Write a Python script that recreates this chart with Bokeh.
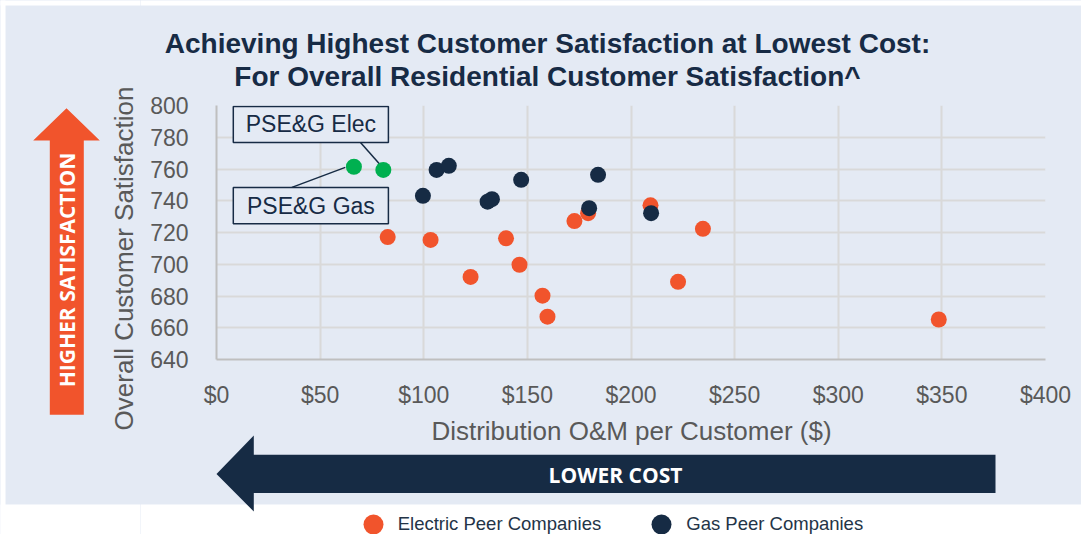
import math
from bokeh.plotting import figure
from bokeh.layouts import row, column
from bokeh.models import (Range1d, FixedTicker, PrintfTickFormatter, BoxAnnotation,
                          Label, Legend, LegendItem, ColumnDataSource)
from bokeh.core.properties import value
from bokeh.embed import file_html
from bokeh.resources import INLINE

# ---------------- data ----------------
title_lines = ["Achieving Highest Customer Satisfaction at Lowest Cost:",
               "For Overall Residential Customer Satisfaction^"]
x_title = "Distribution O&M per Customer ($)"
y_title = "Overall Customer Satisfaction"
x_ticks = [0, 50, 100, 150, 200, 250, 300, 350, 400]
y_ticks = [640, 660, 680, 700, 720, 740, 760, 780, 800]

electric_label = "Electric Peer Companies"
electric_cost = [82.6, 103.3, 122.6, 139.7, 146.2, 157.3, 159.7, 172.7, 179.3, 209.4, 222.7, 234.7, 348.5]
electric_sat = [717.1, 715.3, 692.0, 716.3, 699.7, 680.2, 667.0, 727.2, 732.2, 737.1, 688.9, 722.3, 665.2]

gas_label = "Gas Peer Companies"
gas_cost = [99.6, 106.2, 112.1, 130.8, 132.9, 147.0, 179.8, 184.1, 209.7]
gas_sat = [743.1, 759.4, 762.0, 739.4, 741.0, 753.2, 735.3, 756.3, 732.2]

pseg_names = ["PSE&G Gas", "PSE&G Elec"]
pseg_cost = [66.3, 80.5]
pseg_sat = [761.4, 759.4]

up_arrow_text = "HIGHER SATISFACTION"
left_arrow_text = "LOWER COST"

# ---------------- styling ----------------
PANEL = "#E4EAF4"
ORANGE = "#F1542C"
NAVY = "#162B44"
TITLE_C = "#172B45"
GREEN = "#00B050"
GRID = "#D9D9D9"
GRAY_TXT = "#595959"
FONT = "Liberation Sans"

WIN_W, WIN_H = 1081, 534
SPLIT_X = 140          # left strip | right column
TOP_Y = 90             # title strip | chart
BOT_Y = 410            # chart | bottom strip
PANEL_L, PANEL_T, PANEL_B = 5, 5, 504
FR_L, FR_R, FR_T, FR_B = 216, 1045, 105, 364   # plot frame in page pixels
X0, X1 = 0, 400
Y0, Y1 = 640, 800


def dx(px):
    return X0 + (px - FR_L) * (X1 - X0) / (FR_R - FR_L)


def dy(py):
    return Y1 - (py - FR_T) * (Y1 - Y0) / (FR_B - FR_T)


def px_w(n):
    return n * (X1 - X0) / (FR_R - FR_L)


def px_h(n):
    return n * (Y1 - Y0) / (FR_B - FR_T)


def strip(x0, x1, y0, y1):
    """a figure whose frame is the whole canvas, in page-pixel coordinates"""
    f = figure(width=x1 - x0, height=y1 - y0, x_range=Range1d(x0, x1), y_range=Range1d(y1, y0),
               min_border=0, x_axis_type=None, y_axis_type=None, toolbar_location=None,
               output_backend="svg", background_fill_color=PANEL, border_fill_color=PANEL,
               outline_line_color=None, frame_align=False)
    # white page outside the light-blue panel
    if x0 < PANEL_L:
        f.quad(left=[x0 - 5], right=[PANEL_L], top=[y0 - 5], bottom=[y1 + 5],
               fill_color="white", line_color=None)
    if y0 < PANEL_T:
        f.quad(left=[x0 - 5], right=[x1 + 5], top=[y0 - 5], bottom=[PANEL_T],
               fill_color="white", line_color=None)
    if y1 > PANEL_B:
        f.quad(left=[x0 - 5], right=[x1 + 5], top=[PANEL_B], bottom=[y1 + 5],
               fill_color="white", line_color=None)
    return f


# ---------------- left strip: up arrow + y title ----------------
lf = strip(0, SPLIT_X, 0, WIN_H)
lf.patch([66, 99.3, 83.3, 83.3, 49.3, 49.3, 32.7], [107.7, 140, 140, 414.3, 414.3, 140, 140],
         fill_color=ORANGE, line_color=None)
lf.text(x=[66.5], y=[269.5], text=[up_arrow_text], angle=math.pi / 2,
        text_font=value("Open Sans"), text_font_size="21px", text_font_style="bold",
        text_color="white", text_align="center", text_baseline="middle")
lf.text(x=[123], y=[258], text=[y_title], angle=math.pi / 2,
        text_font=value(FONT), text_font_size="26px", text_color=GRAY_TXT,
        text_align="center", text_baseline="middle")

# ---------------- top strip: title ----------------
tf = strip(SPLIT_X, WIN_W, 0, TOP_Y)
tf.text(x=[547, 547], y=[42.5, 75.5], text=title_lines,
        text_font=value(FONT), text_font_size="28px", text_font_style="bold",
        text_color=TITLE_C, text_align="center", text_baseline="middle")

# ---------------- main chart ----------------
p = figure(width=WIN_W - SPLIT_X, height=BOT_Y - TOP_Y, output_backend="svg", toolbar_location=None,
           x_range=Range1d(X0, X1), y_range=Range1d(Y0, Y1),
           min_border_left=FR_L - SPLIT_X, min_border_right=WIN_W - FR_R,
           min_border_top=FR_T - TOP_Y, min_border_bottom=BOT_Y - FR_B,
           border_fill_color=PANEL, background_fill_color=PANEL, outline_line_color=None,
           frame_align=False)
p.xaxis.ticker = FixedTicker(ticks=x_ticks)
p.yaxis.ticker = FixedTicker(ticks=y_ticks)
p.xaxis.formatter = PrintfTickFormatter(format="$%d")
for ax in (p.xaxis, p.yaxis):
    ax.major_tick_line_color = None
    ax.minor_tick_line_color = None
    ax.axis_line_color = "#BFBFBF"
    ax.axis_line_width = 2
    ax.major_label_text_font = FONT
    ax.major_label_text_font_size = "23px"
    ax.major_label_text_color = GRAY_TXT
p.xaxis.major_label_standoff = 16
p.yaxis.major_label_standoff = 22
p.xgrid.grid_line_color = GRID
p.ygrid.grid_line_color = GRID
p.xgrid.grid_line_width = 2
p.ygrid.grid_line_width = 2

src_e = ColumnDataSource(dict(x=electric_cost, y=electric_sat))
src_g = ColumnDataSource(dict(x=gas_cost, y=gas_sat))
src_p = ColumnDataSource(dict(x=pseg_cost, y=pseg_sat, name=pseg_names))
p.scatter("x", "y", source=src_e, size=16, fill_color=ORANGE, line_color=None)
p.scatter("x", "y", source=src_g, size=16, fill_color=NAVY, line_color=None)

gas_i, elec_i = 0, 1
lead_x0 = [dx(291.4), dx(360)]
lead_y0 = [dy(188.5), dy(142.7)]
lead_x1 = [pseg_cost[gas_i] - px_w(8.6), pseg_cost[elec_i] - px_w(3.8)]
lead_y1 = [pseg_sat[gas_i] - px_h(0.6), pseg_sat[elec_i] + px_h(6)]
p.segment(lead_x0, lead_y0, lead_x1, lead_y1, line_color=NAVY, line_width=1.5)

p.scatter("x", "y", source=src_p, size=16, fill_color=GREEN, line_color=None)

for name, top_px, bot_px in [(pseg_names[elec_i], 106, 142.7), (pseg_names[gas_i], 188.5, 225.7)]:
    p.add_layout(BoxAnnotation(left=dx(232.8), right=dx(387.9), top=dy(top_px), bottom=dy(bot_px),
                               fill_color=PANEL, fill_alpha=1.0, line_color=TITLE_C, line_alpha=1.0,
                               line_width=1.5))
    p.add_layout(Label(x=dx(310.4), y=dy((top_px + bot_px) / 2), text=name,
                       text_font=FONT, text_font_size="23px", text_color=TITLE_C,
                       text_align="center", text_baseline="middle"))

# ---------------- bottom strip: x title, left arrow, legend ----------------
bf = strip(SPLIT_X, WIN_W, BOT_Y, WIN_H)
bf.text(x=[631], y=[430], text=[x_title], text_font=value(FONT), text_font_size="26px",
        text_color=GRAY_TXT, text_align="center", text_baseline="middle")
bf.patch([216, 253.3, 253.3, 995, 995, 253.3, 253.3], [473.5, 435, 454.3, 454.3, 492.5, 492.5, 511],
         fill_color=NAVY, line_color=None)
bf.text(x=[615], y=[474], text=[left_arrow_text], text_font=value("Open Sans"),
        text_font_size="21px", text_font_style="bold", text_color="white",
        text_align="center", text_baseline="middle")

# legend swatches: same sources, hidden renderers (legend shows them at full strength)
le_e = bf.scatter("x", "y", source=src_e, size=16, fill_color=ORANGE, line_color=None, visible=False)
le_g = bf.scatter("x", "y", source=src_g, size=16, fill_color=NAVY, line_color=None, visible=False)
legend = Legend(items=[LegendItem(label=electric_label, renderers=[le_e]),
                       LegendItem(label=gas_label, renderers=[le_g])],
                orientation="horizontal", location=(347.7 - SPLIT_X, -15),
                glyph_width=50, glyph_height=50, label_standoff=0, spacing=35,
                padding=0, margin=0, border_line_color=None, background_fill_alpha=0,
                inactive_fill_alpha=0,
                label_text_font=FONT, label_text_font_size="18.5px", label_text_color="#243447")
bf.add_layout(legend)

right_col = column(tf, p, bf, styles={"background-color": PANEL})
layout = row(lf, right_col, styles={"background-color": PANEL})
open("out.html", "w").write(file_html(layout, INLINE))
